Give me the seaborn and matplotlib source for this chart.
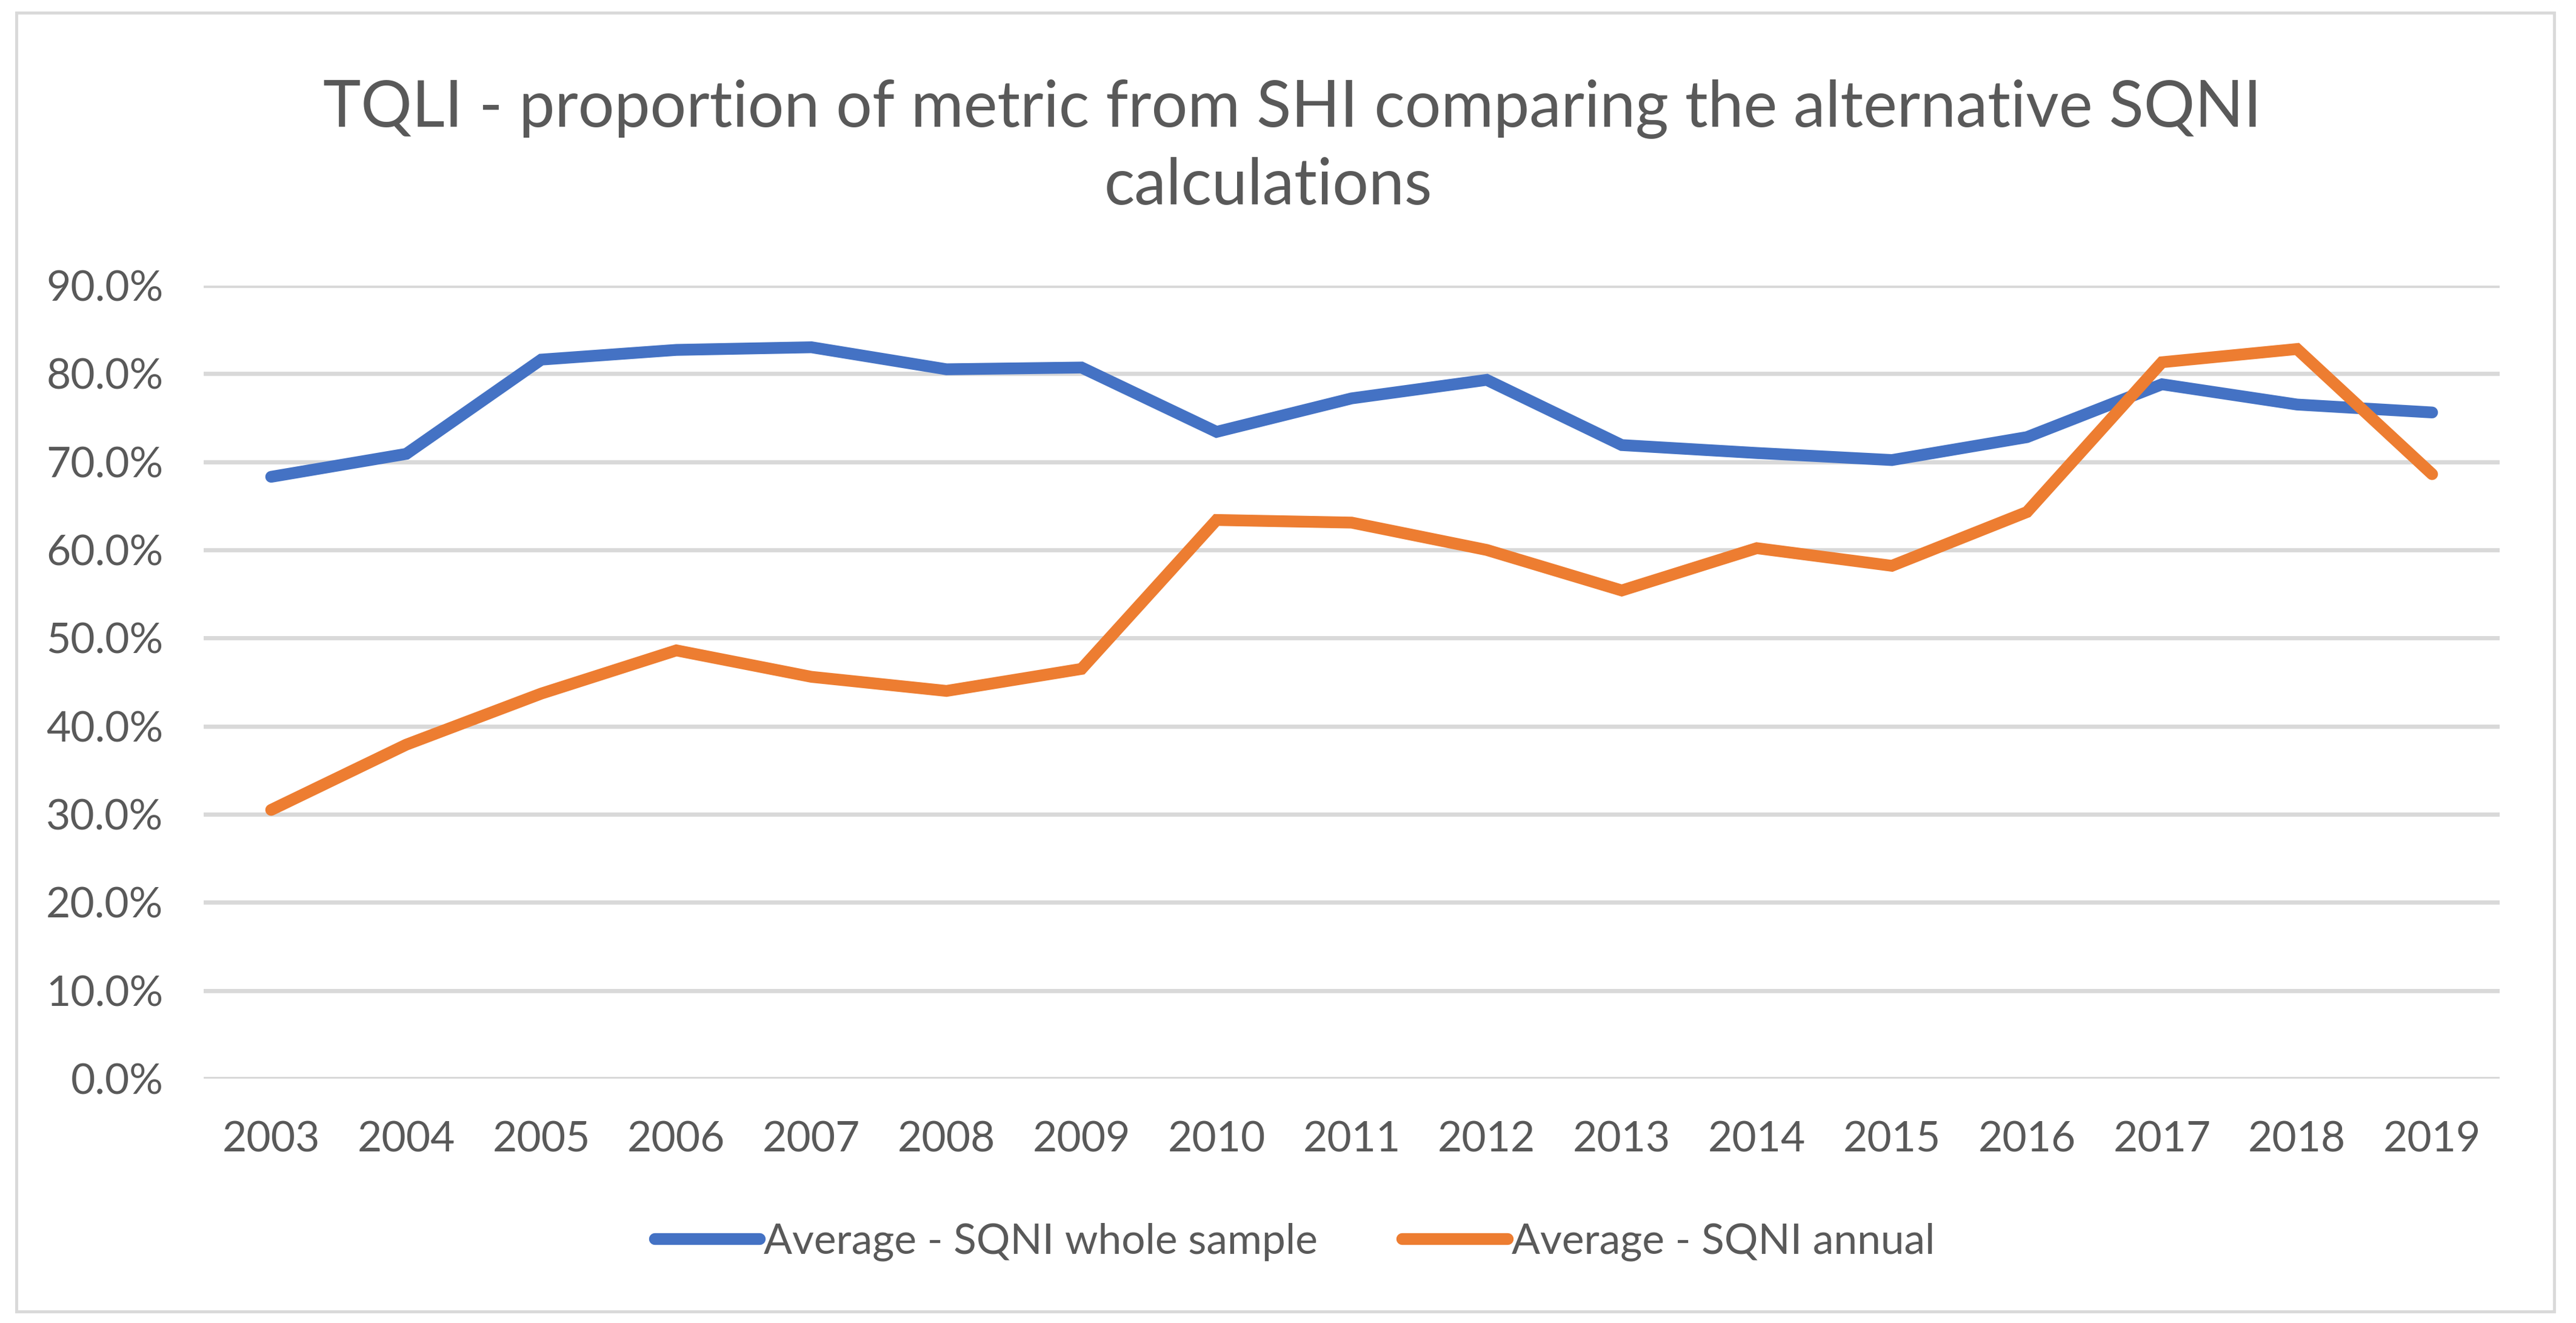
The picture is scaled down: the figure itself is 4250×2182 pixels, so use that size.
import matplotlib
matplotlib.use("Agg")
import matplotlib.pyplot as plt
from matplotlib.patches import Rectangle
from matplotlib.ticker import PercentFormatter
import seaborn as sns
import pandas as pd

# values
years = list(range(2003, 2020))
whole_sample = [68.3, 70.9, 81.6, 82.7, 83.0, 80.5, 80.7, 73.4, 77.2, 79.3,
                71.9, 71.0, 70.2, 72.8, 78.8, 76.5, 75.6]
annual = [30.5, 37.9, 43.7, 48.6, 45.6, 44.0, 46.5, 63.4, 63.1, 60.0,
          55.4, 60.2, 58.2, 64.3, 81.3, 82.8, 68.6]
series_names = ["Average - SQNI whole sample", "Average - SQNI annual"]
colors = ["#4472C4", "#ED7D31"]
title_lines = ["TQLI - proportion of metric from SHI comparing the alternative SQNI",
               "calculations"]

df = pd.DataFrame({
    "year": years * 2,
    "value": whole_sample + annual,
    "series": [series_names[0]] * len(years) + [series_names[1]] * len(years),
})

sns.set_style("white")
plt.rcParams["font.family"] = ["Lato", "DejaVu Sans"]
text_color = "#595959"
grid_color = "#D9D9D9"

W, H = 4250, 2182
fig = plt.figure(figsize=(W / 100, H / 100), dpi=100)
ax = fig.add_axes([336 / W, 1 - 1779 / H, (4124 - 336) / W, (1779 - 471) / H])

sns.lineplot(data=df, x="year", y="value", hue="series", palette=colors,
             legend=False, ax=ax)
# make the lines as heavy as the Excel ones
for line in ax.get_lines():
    line.set_linewidth(14)
    line.set_solid_capstyle("round")
    line.set_solid_joinstyle("miter")

ax.set_xlim(years[0] - 0.5, years[-1] + 0.5)
ax.set_ylim(0, 90)
ax.set_yticks(range(0, 91, 10))
ax.set_xticks(years)
ax.yaxis.set_major_formatter(PercentFormatter(decimals=1))
ax.grid(axis="y", color=grid_color, linewidth=5)
ax.set_axisbelow(True)
for s in ax.spines.values():
    s.set_visible(False)
ax.tick_params(axis="both", length=0, labelsize=50, colors=text_color)
ax.tick_params(axis="y", pad=48)
ax.tick_params(axis="x", pad=50)
ax.set_xlabel("")
ax.set_ylabel("")

# title, two lines as in the original
fig.text(2132 / W, 1 - 209 / H, title_lines[0], ha="center", va="baseline",
         fontsize=76, color=text_color)
fig.text(2092 / W, 1 - 337 / H, title_lines[1], ha="center", va="baseline",
         fontsize=76, color=text_color)

handles = ax.get_lines()[:2]
fig.legend(handles, series_names, loc="center", bbox_to_anchor=(2136 / W, 1 - 2048 / H),
           ncol=2, frameon=False, fontsize=50, labelcolor=text_color,
           handlelength=2.5, handletextpad=0.1, columnspacing=2.0)

# light chart-area border
fig.patches.append(Rectangle((27 / W, 1 - 2163 / H), (4214 - 27) / W, (2163 - 21) / H,
                             transform=fig.transFigure, fill=False,
                             edgecolor=grid_color, linewidth=3.5))

fig.savefig("out.png", dpi=100)
